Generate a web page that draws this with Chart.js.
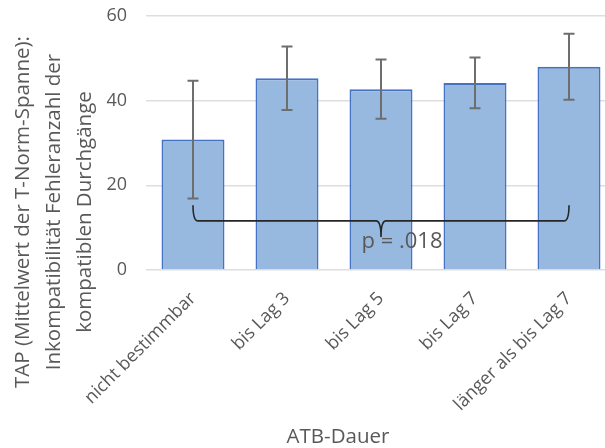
<!DOCTYPE html>
<html>
<head>
<meta charset="utf-8">
<script src="https://cdn.jsdelivr.net/npm/chart.js@4"></script>
<style>
  html, body { margin: 0; padding: 0; background: #fff; overflow: hidden; }
  #wrap { width: 605px; height: 448px; overflow: hidden; }
</style>
</head>
<body>
<div id="wrap"><canvas id="myChart" width="620" height="448"></canvas></div>
<script>
// Categories, means and error bar half-widths
const categories = ['nicht bestimmbar', 'bis Lag 3', 'bis Lag 5', 'bis Lag 7', 'länger als bis Lag 7'];
const means = [30.8, 45.3, 42.7, 44.2, 48.0];
const errors = [13.9, 7.5, 7.0, 6.0, 7.8];
const yTicks = [0, 20, 40, 60];

const yTitleLines = ['TAP (Mittelwert der T-Norm-Spanne):', 'Inkompatibilität Fehleranzahl der', 'kompatiblen Durchgänge'];
const xTitle = 'ATB-Dauer';
const pLabel = 'p = .018';

const textColor = '#595959';
const fontFamily = '"Open Sans", sans-serif';

// Error bars drawn over each bar
const errorBars = {
    id: 'errorBars',
    afterDatasetsDraw(chart) {
        const ctx = chart.ctx;
        const y = chart.scales.y;
        const bars = chart.getDatasetMeta(0).data;
        ctx.save();
        ctx.strokeStyle = '#6e6e6e';
        ctx.lineWidth = 2;
        bars.forEach((bar, i) => {
            const top = y.getPixelForValue(means[i] + errors[i]);
            const bottom = y.getPixelForValue(means[i] - errors[i]);
            ctx.beginPath();
            ctx.moveTo(bar.x, top);
            ctx.lineTo(bar.x, bottom);
            ctx.moveTo(bar.x - 5.5, top);
            ctx.lineTo(bar.x + 5.5, top);
            ctx.moveTo(bar.x - 5.5, bottom);
            ctx.lineTo(bar.x + 5.5, bottom);
            ctx.stroke();
        });
        ctx.restore();
    }
};

// Curly bracket from first to last category with the p value
const bracket = {
    id: 'bracket',
    afterDatasetsDraw(chart) {
        const ctx = chart.ctx;
        const x = chart.scales.x, y = chart.scales.y;
        const x0 = x.getPixelForValue(0), x1 = x.getPixelForValue(categories.length - 1);
        const mid = (x0 + x1) / 2;
        const yEnd = y.getPixelForValue(15.3);
        const yLine = y.getPixelForValue(11.6);
        const yTip = y.getPixelForValue(7.8);
        ctx.save();
        ctx.fillStyle = textColor;
        ctx.font = '22px ' + fontFamily;
        ctx.textAlign = 'center';
        ctx.textBaseline = 'middle';
        ctx.fillText(pLabel, mid + 21, y.getPixelForValue(6.6));
        ctx.strokeStyle = '#262626';
        ctx.lineWidth = 1.6;
        ctx.beginPath();
        ctx.moveTo(x0, yEnd);
        ctx.quadraticCurveTo(x0, yLine, x0 + 5, yLine);
        ctx.lineTo(mid - 5, yLine);
        ctx.quadraticCurveTo(mid, yLine, mid, yTip);
        ctx.quadraticCurveTo(mid, yLine, mid + 5, yLine);
        ctx.lineTo(x1 - 5, yLine);
        ctx.quadraticCurveTo(x1, yLine, x1, yEnd);
        ctx.stroke();
        ctx.restore();
    }
};

// Axis titles (Excel centres them on the whole chart, not the plot)
const axisTitles = {
    id: 'axisTitles',
    afterDraw(chart) {
        const ctx = chart.ctx;
        ctx.save();
        ctx.fillStyle = textColor;
        ctx.font = '20.5px ' + fontFamily;
        ctx.textAlign = 'center';
        ctx.textBaseline = 'middle';
        ctx.fillText(xTitle, 338, 437);
        ctx.translate(0, 212);
        ctx.rotate(-Math.PI / 2);
        yTitleLines.forEach((line, i) => ctx.fillText(line, 0, 23 + i * 31));
        ctx.restore();
    }
};

const ctx = document.getElementById('myChart').getContext('2d');

const chart = new Chart(ctx, {
    type: 'bar',
    data: {
        labels: categories,
        datasets: [{
            data: means,
            backgroundColor: 'rgb(151, 185, 224)',
            borderColor: '#4472C4',
            borderWidth: 2,
            barPercentage: 0.67,
            categoryPercentage: 1
        }]
    },
    options: {
        responsive: false,
        animation: false,
        layout: { padding: { top: 16, right: 4, left: 0, bottom: 0 } },
        plugins: {
            legend: { display: false },
            tooltip: { enabled: false }
        },
        scales: {
            x: {
                grid: { display: false },
                border: { display: false },
                ticks: {
                    color: textColor,
                    font: { family: fontFamily, size: 18 },
                    minRotation: 45,
                    maxRotation: 45,
                    padding: 10
                },
                afterFit(scale) { scale.height = 178; }
            },
            y: {
                min: 0,
                max: 60,
                afterBuildTicks(scale) { scale.ticks = yTicks.map(v => ({ value: v })); },
                grid: { color: '#dedede', lineWidth: 1.5, drawTicks: true, tickLength: 17, tickColor: 'rgba(0,0,0,0)' },
                border: { display: false },
                ticks: {
                    color: textColor,
                    font: { family: fontFamily, size: 18 },
                    padding: 2
                },
                afterFit(scale) { scale.width = 146; }
            }
        }
    },
    plugins: [errorBars, bracket, axisTitles]
});
</script>
</body>
</html>
